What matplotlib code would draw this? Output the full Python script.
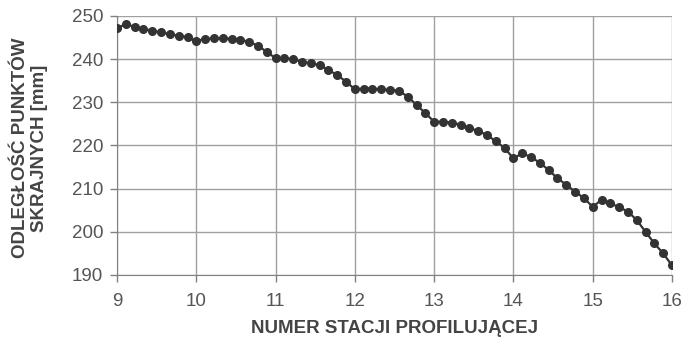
import numpy as np
import matplotlib
matplotlib.use("Agg")
import matplotlib.pyplot as plt

plt.rcParams['font.family'] = ['Liberation Sans', 'DejaVu Sans']

# station number (9 points per unit, 9..16)
x_start = 9
x_end = 16
n_points = 64
station = np.linspace(x_start, x_end, n_points)

distance = [
    247.2, 248.1, 247.5, 247.0, 246.6, 246.2, 245.8, 245.4, 245.1,
    244.2, 244.7, 244.8, 244.8, 244.7, 244.5, 244.0, 243.1, 241.7,
    240.2, 240.2, 240.0, 239.4, 239.0, 238.6, 237.5, 236.3, 234.8,
    233.0, 233.2, 233.2, 233.0, 232.9, 232.7, 231.3, 229.4, 227.5,
    225.5, 225.5, 225.3, 224.8, 224.0, 223.4, 222.4, 221.0, 219.4,
    217.0, 218.2, 217.3, 216.0, 214.3, 212.4, 210.9, 209.3, 207.8,
    205.8, 207.4, 206.6, 205.7, 204.7, 202.7, 200.0, 197.3, 195.0,
    192.2,
]

x_ticks = [9, 10, 11, 12, 13, 14, 15, 16]
y_ticks = [190, 200, 210, 220, 230, 240, 250]

fig = plt.figure(figsize=(6.86, 3.44), dpi=100)
ax = fig.add_axes([0.1706, 0.2006, 0.8090, 0.7529])

ax.plot(station, distance, color='#333333', lw=1.6, marker='o', ms=5.5,
        markeredgecolor='#333333', zorder=3)

ax.set_xlim(9, 16)
ax.set_ylim(190, 250)
ax.set_xticks(x_ticks)
ax.set_yticks(y_ticks)
ax.grid(True, color='#a0a0a0', lw=1.0)
for s in ['top', 'right']:
    ax.spines[s].set_visible(False)
for s in ['left', 'bottom']:
    ax.spines[s].set_color('#808080')
ax.tick_params(axis='both', colors='#808080', labelcolor='#555555',
               labelsize=13.5, length=5, width=1.0, direction='out')
ax.tick_params(axis='x', pad=8)
ax.tick_params(axis='y', pad=5)

ax.set_xlabel('NUMER STACJI PROFILUJĄCEJ', fontsize=13.5, fontweight='bold',
              color='#444444')
ax.xaxis.set_label_coords(0.5, -0.172)
ax.set_ylabel('ODLEGŁOŚĆ PUNKTÓW\nSKRAJNYCH [mm]', fontsize=13.5,
              fontweight='bold', color='#444444', linespacing=1.2)
ax.yaxis.set_label_coords(-0.124, 0.49)

fig.savefig('out.png', dpi=100)
